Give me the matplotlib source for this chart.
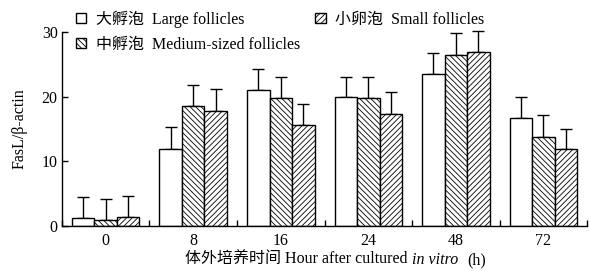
import numpy as np
import matplotlib
matplotlib.use("Agg")
import matplotlib.pyplot as plt
from matplotlib.patches import Patch

plt.rcParams['font.family'] = ['Liberation Serif', 'Noto Sans CJK SC']
plt.rcParams['font.size'] = 11.5
plt.rcParams['hatch.linewidth'] = 0.6

# data
hours = ['0', '8', '16', '24', '48', '72']
large = [1.15, 11.9, 21.0, 20.0, 23.5, 16.7]
large_err = [3.25, 3.4, 3.2, 3.1, 3.2, 3.3]
medium = [0.9, 18.6, 19.8, 19.8, 26.5, 13.8]
medium_err = [3.3, 3.2, 3.3, 3.3, 3.3, 3.3]
small = [1.3, 17.8, 15.6, 17.3, 26.9, 11.9]
small_err = [3.3, 3.3, 3.2, 3.4, 3.3, 3.1]

labels = ['大孵泡  Large follicles', '中孵泡  Medium-sized follicles', '小卵泡  Small follicles']
hatches = ['', '\\\\\\\\\\\\', '//////']
xlabel_parts = [('体外培养时间 Hour after cultured', 'normal'), ('in vitro', 'italic'), ('(h)', 'normal')]

fig = plt.figure(figsize=(5.89, 2.71), dpi=100)
ax = fig.add_axes([0.105, 0.167, 0.892, 0.715])

x = np.arange(len(hours))
w = 0.257
series = [(large, large_err), (medium, medium_err), (small, small_err)]
for i, (vals, errs) in enumerate(series):
    pos = x + (i - 1) * w
    ax.bar(pos, vals, width=w, color='white', edgecolor='black', linewidth=1.0,
           hatch=hatches[i], zorder=2)
    eb = ax.errorbar(pos, vals, yerr=[np.zeros(len(vals)), errs], fmt='none',
                     ecolor='black', elinewidth=1.0, capsize=4, capthick=1.0, zorder=1)
    for art in eb.lines[1] + eb.lines[2]:
        art.set_clip_on(False)

ax.set_xlim(-0.5, 5.5)
ax.set_ylim(0, 30)
ax.set_yticks([0, 10, 20, 30])
ax.set_xticks(x)
ax.set_xticklabels(hours)
ax.set_xticks(np.arange(-0.5, 6.0, 1.0), minor=True)
ax.tick_params(axis='x', which='major', length=0, pad=5)
ax.tick_params(axis='x', which='minor', direction='in', length=4, width=1)
ax.tick_params(axis='y', direction='in', length=4, width=1, pad=3)
ax.spines['top'].set_visible(False)
ax.spines['right'].set_visible(False)
ax.spines['left'].set_linewidth(1.0)
ax.spines['bottom'].set_linewidth(1.0)

ax.set_ylabel('FasL/β-actin', labelpad=10)

# x label pieces laid out on one baseline, "in vitro" in italics
renderer = fig.canvas.get_renderer()
gaps = [4, 9]  # px between pieces
texts = []
total = sum(gaps)
for s, st in xlabel_parts:
    t = fig.text(0, 0, s, style=st, va='baseline', ha='left')
    wd = t.get_window_extent(renderer).width
    texts.append((t, wd))
    total += wd
W = fig.bbox.width
xpx = 0.57 * W - total / 2
for k, (t, wd) in enumerate(texts):
    t.set_position((xpx / W, 0.025))
    xpx += wd + (gaps[k] if k < len(gaps) else 0)

handles = [Patch(facecolor='white', edgecolor='black', hatch=h, linewidth=1.0) for h in hatches]
fig.legend(handles, labels, ncol=2, loc='upper left', bbox_to_anchor=(0.111, 1.0),
           frameon=False, handlelength=0.65, handleheight=0.65, handletextpad=0.6,
           labelspacing=0.55, columnspacing=0.95, borderpad=0.15)

fig.savefig('out.png', dpi=100)
